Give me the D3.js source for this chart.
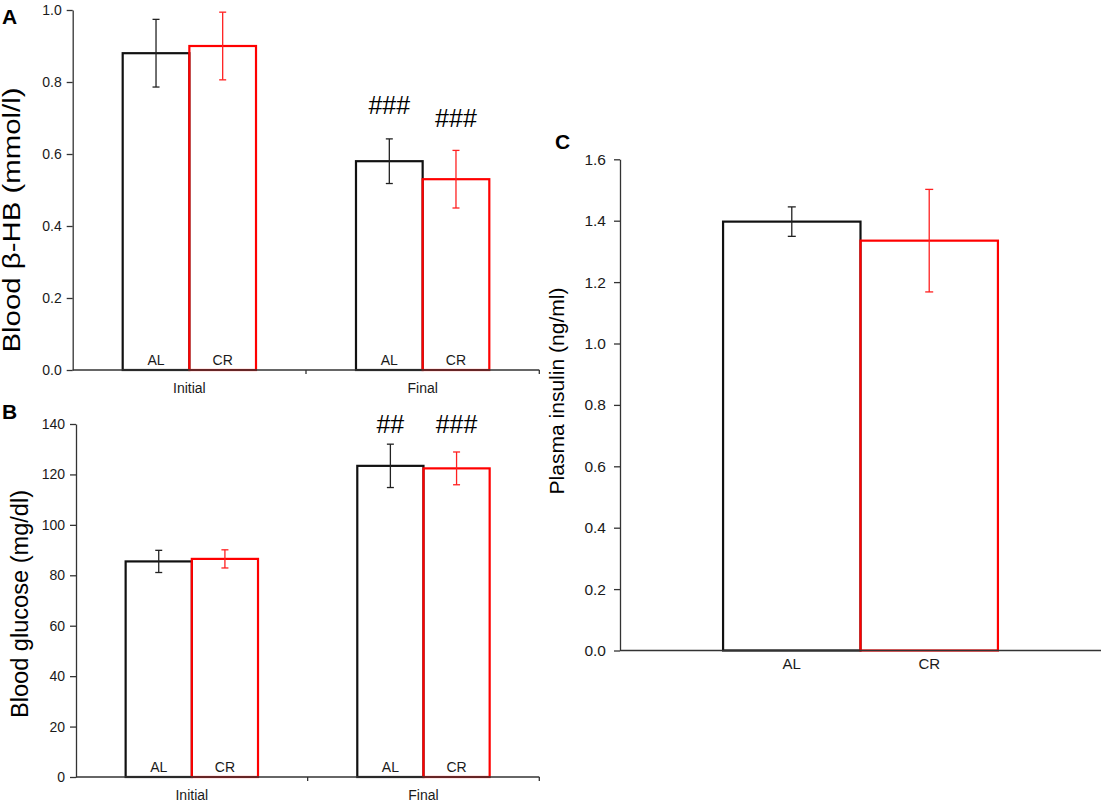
<!DOCTYPE html>
<html>
<head>
<meta charset="utf-8">
<script src="https://cdn.jsdelivr.net/npm/d3@7"></script>
<style>
  body { margin: 0; background: #fff; }
  svg { display: block; font-family: Arial, "Liberation Sans", sans-serif; }
</style>
</head>
<body>
<div id="chart"></div>
<script>
const timepoints = ["Initial", "Final"];
const diets = ["AL", "CR"];

// panel A : blood beta-HB (mmol/l)
const hbAL = [0.88, 0.58];
const hbALErr = [0.094, 0.062];
const hbCR = [0.90, 0.53];
const hbCRErr = [0.094, 0.080];
const hbMarks = ["###", "###"];
const hbMarkAt = [0.71, 0.675];
const hbTicks = [0, 0.2, 0.4, 0.6, 0.8, 1.0];

// panel B : blood glucose (mg/dl)
const gluAL = [85.5, 123.4];
const gluALErr = [4.4, 8.6];
const gluCR = [86.5, 122.4];
const gluCRErr = [3.6, 6.5];
const gluMarks = ["##", "###"];
const gluMarkAt = [136.4, 136.4];
const gluTicks = [0, 20, 40, 60, 80, 100, 120, 140];

// panel C : plasma insulin (ng/ml)
const insulin = [1.397, 1.335];
const insulinErr = [0.048, 0.167];
const insTicks = [0, 0.2, 0.4, 0.6, 0.8, 1.0, 1.2, 1.4, 1.6];

const width = 1105, height = 804;
const colors = { AL: "#111", CR: "#ff0000" };
const errColors = { AL: "#222", CR: "#ff2020" };

const svg = d3.select("#chart").append("svg")
    .attr("width", width)
    .attr("height", height);

function drawPanel(o) {
    const g = svg.append("g");

    const y = d3.scaleLinear().domain(o.yDomain).range([o.bottom, o.top]);
    const xg = d3.scaleBand().domain(o.groups).range([o.left, o.right]);
    const xd = d3.scaleBand().domain(diets).range([0, xg.bandwidth()])
        .paddingInner(0).paddingOuter(0.75);

    // one row per bar, AL first so the red bars are painted on top
    const rows = [];
    diets.forEach(d => {
        o.groups.forEach((grp, i) => {
            rows.push({ grp, diet: d, i, value: o.values[d][i], err: o.errors[d][i] });
        });
    });

    g.selectAll("rect.bar")
        .data(rows)
        .join("rect")
        .attr("class", "bar")
        .attr("x", r => xg(r.grp) + xd(r.diet))
        .attr("y", r => y(r.value))
        .attr("width", xd.bandwidth())
        .attr("height", r => y(0) - y(r.value))
        .attr("fill", "none")
        .attr("stroke", r => colors[r.diet])
        .attr("stroke-width", 2.2);

    // error bars
    const cx = r => xg(r.grp) + xd(r.diet) + xd.bandwidth() / 2;
    const eb = g.selectAll("g.err").data(rows).join("g").attr("class", "err")
        .attr("stroke", r => errColors[r.diet])
        .attr("stroke-width", 1.3);
    eb.append("line")
        .attr("x1", cx).attr("x2", cx)
        .attr("y1", r => y(r.value - r.err)).attr("y2", r => y(r.value + r.err));
    [1, -1].forEach(s => {
        eb.append("line")
            .attr("x1", r => cx(r) - o.cap).attr("x2", r => cx(r) + o.cap)
            .attr("y1", r => y(r.value + s * r.err)).attr("y2", r => y(r.value + s * r.err));
    });

    // y axis
    const yAxis = g.append("g")
        .attr("transform", `translate(${o.left},0)`)
        .call(d3.axisLeft(y).tickValues(o.ticks).tickFormat(o.fmt)
            .tickSize(6).tickSizeOuter(0).tickPadding(o.tickPad));
    yAxis.selectAll("path, line").attr("stroke", "#333").attr("stroke-width", 1.3);
    yAxis.selectAll("text").attr("font-size", o.tickFont).attr("fill", "#1a1a1a")
        .attr("font-family", "Arial, 'Liberation Sans', sans-serif");

    // x axis line, with small ticks at the band edges
    g.append("line")
        .attr("x1", o.left).attr("x2", o.right)
        .attr("y1", y(0)).attr("y2", y(0))
        .attr("stroke", "#333").attr("stroke-width", 1.3);
    if (o.separators) {
        g.selectAll("line.sep")
            .data(o.groups)
            .join("line")
            .attr("class", "sep")
            .attr("x1", d => xg(d) + xg.bandwidth()).attr("x2", d => xg(d) + xg.bandwidth())
            .attr("y1", y(0)).attr("y2", y(0) + 4)
            .attr("stroke", "#333").attr("stroke-width", 1.3);
    }

    // timepoint labels
    if (o.groupLabels) {
        g.selectAll("text.grp")
            .data(o.groups)
            .join("text")
            .attr("class", "grp")
            .attr("x", d => xg(d) + xg.bandwidth() / 2)
            .attr("y", y(0) + 23)
            .attr("text-anchor", "middle")
            .attr("font-size", 14)
            .attr("fill", "#1a1a1a")
            .text(d => d);
    }

    // diet labels, inside the bars or below the axis
    g.selectAll("text.diet")
        .data(rows)
        .join("text")
        .attr("class", "diet")
        .attr("x", cx)
        .attr("y", y(0) + o.dietDy)
        .attr("text-anchor", "middle")
        .attr("font-size", o.dietFont)
        .attr("fill", "#1a1a1a")
        .text(r => r.diet);

    // significance marks above the final bars
    if (o.marks) {
        g.selectAll("text.mark")
            .data(rows.filter(r => r.i === 1))
            .join("text")
            .attr("class", "mark")
            .attr("x", cx)
            .attr("y", (r, k) => y(o.markAt[k]))
            .attr("text-anchor", "middle")
            .attr("font-size", 25)
            .attr("fill", "#000")
            .text((r, k) => o.marks[k]);
    }

    // y axis title
    g.append("text")
        .attr("transform", `translate(${o.titleX},${o.titleY}) rotate(-90)`)
        .attr("text-anchor", "middle")
        .attr("font-size", o.titleFont)
        .attr("fill", "#000")
        .attr("textLength", o.titleLen)
        .attr("lengthAdjust", "spacingAndGlyphs")
        .text(o.title);

    // panel letter
    g.append("text")
        .attr("x", o.letterX).attr("y", o.letterY)
        .attr("font-size", 21)
        .attr("font-weight", "bold")
        .attr("fill", "#000")
        .text(o.letter);
}

drawPanel({
    left: 72.7, right: 539.3, top: 10, bottom: 370,
    yDomain: [0, 1], ticks: hbTicks, fmt: d3.format(".1f"), tickFont: 14, tickPad: 5,
    groups: timepoints,
    values: { AL: hbAL, CR: hbCR }, errors: { AL: hbALErr, CR: hbCRErr },
    cap: 3.5, separators: true, groupLabels: true,
    dietDy: -5, dietFont: 14,
    marks: hbMarks, markAt: hbMarkAt,
    title: "Blood β-HB (mmol/l)", titleX: 20, titleY: 220, titleFont: 23, titleLen: 265,
    letter: "A", letterX: 2, letterY: 24
});

drawPanel({
    left: 76, right: 539.3, top: 424, bottom: 777,
    yDomain: [0, 140], ticks: gluTicks, fmt: d3.format("d"), tickFont: 14, tickPad: 5,
    groups: timepoints,
    values: { AL: gluAL, CR: gluCR }, errors: { AL: gluALErr, CR: gluCRErr },
    cap: 3.5, separators: true, groupLabels: true,
    dietDy: -5, dietFont: 14,
    marks: gluMarks, markAt: gluMarkAt,
    title: "Blood glucose (mg/dl)", titleX: 27.5, titleY: 604, titleFont: 23, titleLen: 228,
    letter: "B", letterX: 2, letterY: 419
});

drawPanel({
    left: 620, right: 1101, top: 159.3, bottom: 650.5,
    yDomain: [0, 1.6], ticks: insTicks, fmt: d3.format(".1f"), tickFont: 15.5, tickPad: 8,
    groups: ["all"],
    values: { AL: [insulin[0]], CR: [insulin[1]] }, errors: { AL: [insulinErr[0]], CR: [insulinErr[1]] },
    cap: 4, separators: false, groupLabels: false,
    dietDy: 18, dietFont: 15,
    marks: null,
    title: "Plasma insulin (ng/ml)", titleX: 564, titleY: 391, titleFont: 20, titleLen: 207,
    letter: "C", letterX: 555, letterY: 149
});
</script>
</body>
</html>
